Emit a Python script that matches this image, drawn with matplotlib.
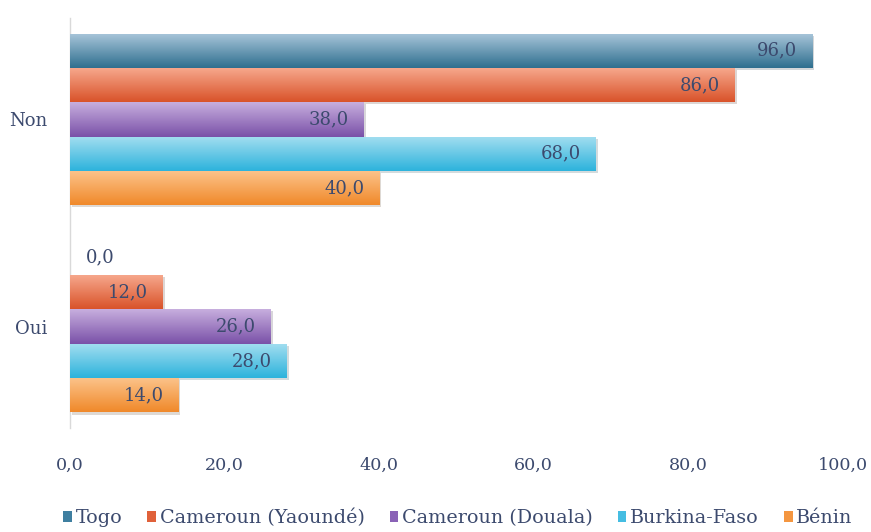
import numpy as np
import matplotlib
matplotlib.use("Agg")
import matplotlib.pyplot as plt
from matplotlib.colors import LinearSegmentedColormap
from matplotlib.patches import Patch
import matplotlib.patheffects as pe

categories = ["Oui", "Non"]
series_names = ["Togo", "Cameroun (Yaoundé)", "Cameroun (Douala)", "Burkina-Faso", "Bénin"]
# values per series: [Oui, Non]
togo = [0.0, 96.0]
yaounde = [12.0, 86.0]
douala = [26.0, 38.0]
burkina = [28.0, 68.0]
benin = [14.0, 40.0]
series_values = [togo, yaounde, douala, burkina, benin]
x_ticks = [0, 20, 40, 60, 80, 100]

# (top light, bottom dark, legend colour)
colors = [
    ("#a9c6da", "#2f6f8f", "#3f7fa0"),
    ("#f7a98e", "#d9532a", "#e0613a"),
    ("#c7aede", "#7a51a8", "#8a62b6"),
    ("#a3def0", "#2db3dc", "#45bde2"),
    ("#fcc48c", "#f0892a", "#f49640"),
]
text_col = "#3c4a6e"

plt.rcParams['font.family'] = ['DejaVu Serif']

fig = plt.figure(figsize=(8.71, 5.32), dpi=100)
ax = fig.add_axes([70/871, 1 - 428/532, (843-70)/871, 410/532])

n = len(series_names)
h = 0.166
y_base = np.arange(len(categories))
for i, (name, vals) in enumerate(zip(series_names, series_values)):
    offs = (n - 1) / 2 * h - i * h
    ys = y_base + offs
    bars = ax.barh(ys, vals, height=h, color=colors[i][2], label=name,
                   edgecolor="none", zorder=2,
                   path_effects=[pe.SimplePatchShadow(offset=(1.5, -1.5), alpha=0.18), pe.Normal()])
    cmap = LinearSegmentedColormap.from_list("g%d" % i, [colors[i][1], colors[i][0]])
    grad = np.linspace(0, 1, 64).reshape(-1, 1)
    for b, v in zip(bars, vals):
        lbl = f"{v:.1f}".replace(".", ",")
        if v <= 0:
            ax.text(v + 2.0, b.get_y() + h / 2, lbl, ha="left", va="center",
                    fontsize=13, color=text_col, zorder=5)
            continue
        x0, y0 = b.get_x(), b.get_y()
        im = ax.imshow(grad, extent=[x0, x0 + b.get_width(), y0, y0 + b.get_height()],
                       origin="lower", cmap=cmap, aspect="auto", zorder=3, interpolation="bicubic")
        im.set_clip_path(b)
        ax.text(v - 1.9, b.get_y() + h / 2, lbl, ha="right", va="center",
                fontsize=13, color=text_col, zorder=5)

ax.set_xlim(0, 100)
ax.set_ylim(-0.49, 1.49)
ax.set_yticks(y_base)
ax.set_yticklabels(categories, fontsize=13, color=text_col)
ax.set_xticks(x_ticks)
ax.set_xticklabels([f"{t:.1f}".replace(".", ",") for t in x_ticks], fontsize=12.6, color=text_col)
ax.tick_params(axis="x", length=0, pad=21)
ax.tick_params(axis="y", length=0, pad=16)
for s in ["top", "right", "bottom"]:
    ax.spines[s].set_visible(False)
ax.spines["left"].set_color("#d9d9d9")
ax.spines["left"].set_linewidth(1.0)

handles = [Patch(facecolor=colors[i][2], edgecolor="none") for i in range(n)]
leg = fig.legend(handles, series_names, loc="center", bbox_to_anchor=(458/871, 1 - 518/532),
                 ncol=n, frameon=False, fontsize=13.8, handlelength=0.45, handleheight=0.45,
                 handletextpad=0.2, columnspacing=1.3)
for t in leg.get_texts():
    t.set_color(text_col)

fig.savefig("out.png", dpi=100, facecolor="white")
